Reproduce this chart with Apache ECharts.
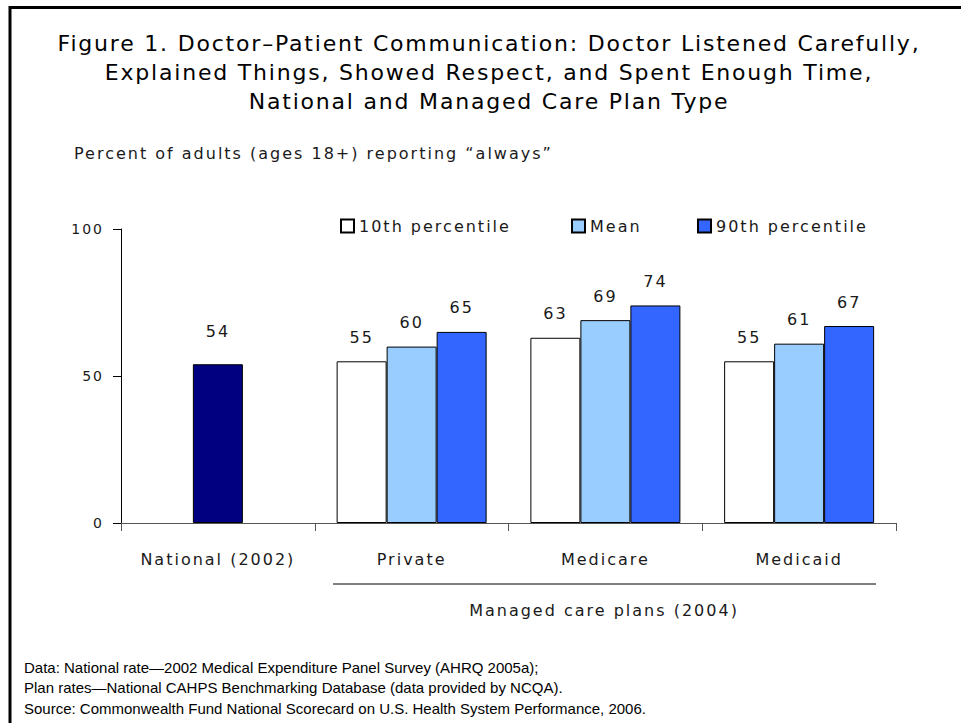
<!DOCTYPE html>
<html>
<head>
<meta charset="utf-8">
<script src="https://cdn.jsdelivr.net/npm/echarts@6/dist/echarts.min.js"></script>
<style>
  html, body { margin: 0; padding: 0; background: #fff; }
  #chart { width: 961px; height: 723px; }
  #chart text { letter-spacing: 2px; }
  #chart text[fill="#010101"] { letter-spacing: 0px; }
  #chart text[fill="#020202"] { letter-spacing: 1.8px; }
</style>
</head>
<body>
<div id="chart"></div>
<script>
const categories = ['National (2002)', 'Private', 'Medicare', 'Medicaid'];
const seriesNames = ['10th percentile', 'Mean', '90th percentile'];
const nationalValues = [54, '-', '-', '-'];
const p10Values = ['-', 55, 63, 55];
const meanValues = ['-', 60, 69, 61];
const p90Values = ['-', 65, 74, 67];
const yMin = 0, yMax = 100, yInterval = 50;
const titleLines = [
  'Figure 1. Doctor\u2013Patient Communication: Doctor Listened Carefully,',
  'Explained Things, Showed Respect, and Spent Enough Time,',
  'National and Managed Care Plan Type'
];
const yAxisTitle = 'Percent of adults (ages 18+) reporting \u201Calways\u201D';
const groupLabel = 'Managed care plans (2004)';
const footerLines = [
  'Data: National rate\u20142002 Medical Expenditure Panel Survey (AHRQ 2005a);',
  'Plan rates\u2014National CAHPS Benchmarking Database (data provided by NCQA).',
  'Source: Commonwealth Fund National Scorecard on U.S. Health System Performance, 2006.'
];

const FONT = '"DejaVu Sans", Verdana, sans-serif';
const TXT = '#1a1a1a';
const chart = echarts.init(document.getElementById('chart'), null, { renderer: 'svg' });

const barBorder = { borderColor: '#000', borderWidth: 1 };
const valueLabel = (dist) => ({
  show: true, position: 'top', distance: dist,
  fontFamily: FONT, fontSize: 16, color: TXT
});

function legendAt(name, left) {
  return {
    data: [name], left: left, top: 213,
    itemWidth: 13, itemHeight: 13, icon: 'rect',
    textStyle: { fontFamily: FONT, fontSize: 16, color: TXT }
  };
}

chart.setOption({
  animation: false,
  backgroundColor: '#fff',
  title: {
    text: titleLines.join('\n'),
    left: 484, top: 24, textAlign: 'center',
    textStyle: { fontFamily: FONT, fontSize: 22, fontWeight: 'normal', color: '#020202', lineHeight: 29 }
  },
  legend: [
    legendAt(seriesNames[0], 335),
    legendAt(seriesNames[1], 566),
    legendAt(seriesNames[2], 692)
  ],
  grid: { left: 121, right: 65, top: 229, bottom: 200, containLabel: false, outerBoundsMode: 'none' },
  xAxis: [
    {
      type: 'category', data: categories,
      axisLine: { lineStyle: { color: '#555', width: 1 } },
      axisTick: { show: true, length: 8, lineStyle: { color: '#555' } },
      axisLabel: { margin: 28, fontFamily: FONT, fontSize: 16, color: TXT }
    },
    { type: 'category', data: categories, show: false }
  ],
  yAxis: {
    type: 'value', min: yMin, max: yMax, interval: yInterval,
    axisLine: { show: true, lineStyle: { color: '#000', width: 1 } },
    axisTick: { show: true, length: 8, lineStyle: { color: '#000' } },
    splitLine: { show: false },
    axisLabel: { margin: 17, fontFamily: FONT, fontSize: 14, color: TXT }
  },
  series: [
    {
      name: 'National', type: 'bar', xAxisIndex: 1, data: nationalValues,
      barWidth: 50, itemStyle: Object.assign({ color: '#000080' }, barBorder),
      label: valueLabel(25)
    },
    {
      name: seriesNames[0], type: 'bar', data: p10Values, barWidth: 50, barGap: '0%',
      itemStyle: Object.assign({ color: '#ffffff' }, barBorder), label: valueLabel(16)
    },
    {
      name: seriesNames[1], type: 'bar', data: meanValues, barWidth: 50, barGap: '0%',
      itemStyle: Object.assign({ color: '#99CCFF' }, barBorder), label: valueLabel(16)
    },
    {
      name: seriesNames[2], type: 'bar', data: p90Values, barWidth: 50, barGap: '0%',
      itemStyle: Object.assign({ color: '#3366FF' }, barBorder), label: valueLabel(16)
    }
  ],
  graphic: [
    { type: 'rect', shape: { x: 10, y: 7.5, width: 1000, height: 800 },
      style: { fill: 'none', stroke: '#000', lineWidth: 3 }, silent: true },
    { type: 'text', x: 74, y: 153,
      style: { text: yAxisTitle, fontFamily: FONT, fontSize: 16, fill: TXT, verticalAlign: 'middle' } },
    { type: 'line', shape: { x1: 333, y1: 584, x2: 876, y2: 584 },
      style: { stroke: '#000', lineWidth: 1 } },
    { type: 'text', x: 604, y: 610,
      style: { text: groupLabel, fontFamily: FONT, fontSize: 16, fill: TXT, align: 'center', verticalAlign: 'middle' } },
    { type: 'text', x: 24, y: 667,
      style: { text: footerLines[0], fontFamily: '"Liberation Sans", Arial, sans-serif', fontSize: 15, fill: '#010101', verticalAlign: 'middle' } },
    { type: 'text', x: 24, y: 687,
      style: { text: footerLines[1], fontFamily: '"Liberation Sans", Arial, sans-serif', fontSize: 15, fill: '#010101', verticalAlign: 'middle' } },
    { type: 'text', x: 24, y: 708,
      style: { text: footerLines[2], fontFamily: '"Liberation Sans", Arial, sans-serif', fontSize: 15, fill: '#010101', verticalAlign: 'middle' } }
  ]
});
</script>
</body>
</html>
